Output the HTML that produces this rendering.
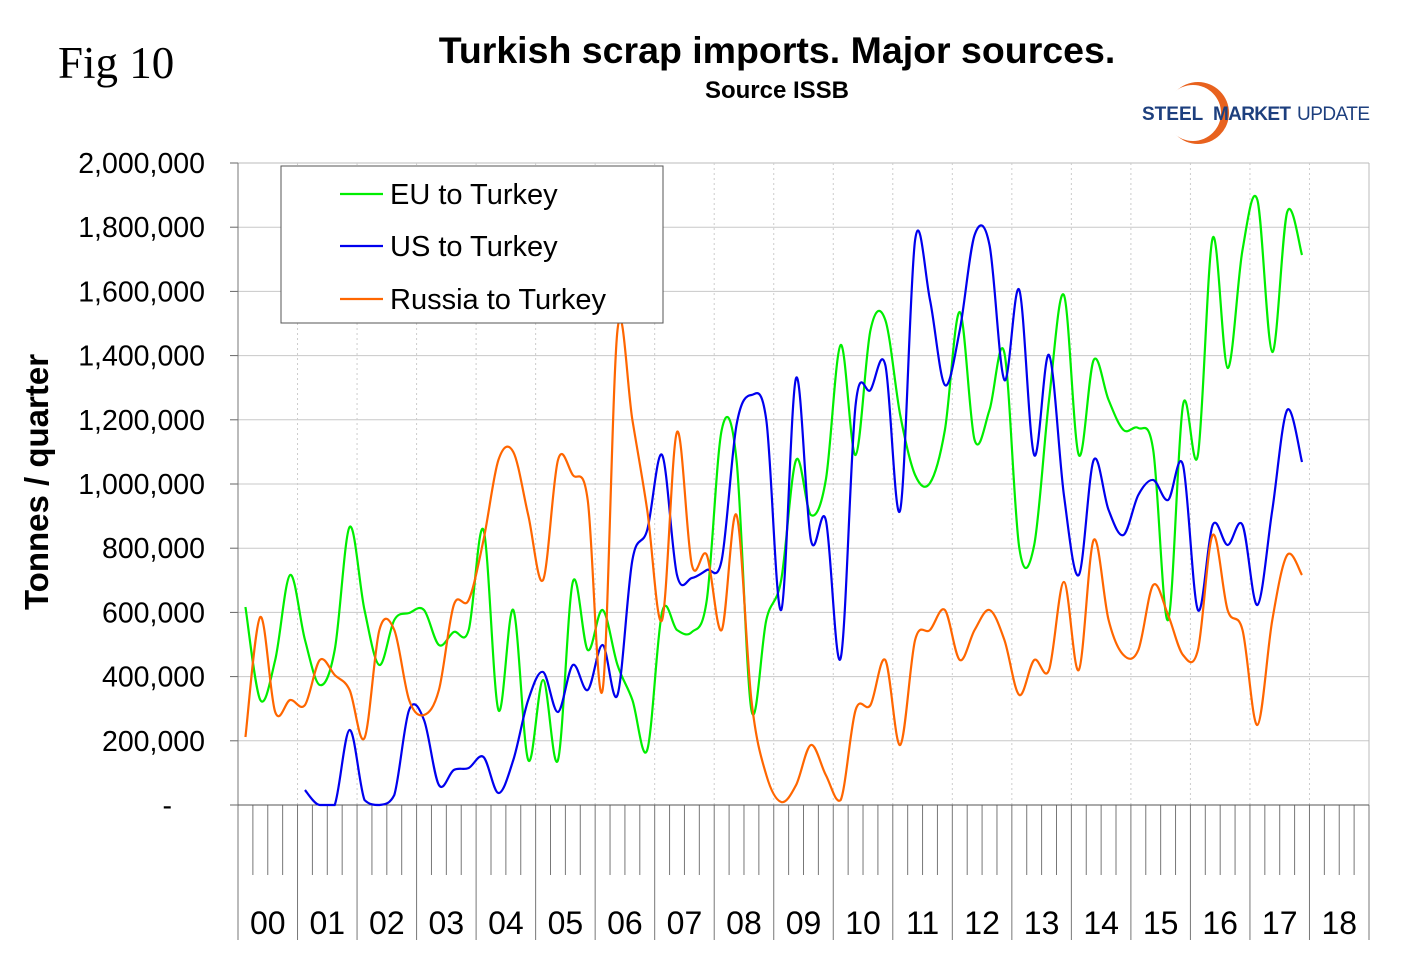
<!DOCTYPE html>
<html><head><meta charset="utf-8"><style>
html,body{margin:0;padding:0;background:#fff;}
svg{display:block;font-family:"Liberation Sans",Arial,sans-serif;}
</style></head><body>
<svg id="s" width="1420" height="973" viewBox="0 0 1420 973" xmlns="http://www.w3.org/2000/svg">
<defs><mask id="m"><rect x="1150" y="70" width="100" height="90" fill="#fff"/><circle cx="1193" cy="113" r="28" fill="#000"/></mask></defs>
<text x="58" y="78" font-family="Liberation Serif,serif" font-size="45">Fig 10</text>
<text x="777" y="63" font-size="37.5" font-weight="bold" text-anchor="middle">Turkish scrap imports. Major sources.</text>
<text x="777" y="98" font-size="24" font-weight="bold" text-anchor="middle">Source ISSB</text>
<circle cx="1198" cy="113" r="31" fill="#e8621e" mask="url(#m)"/>
<text x="1142" y="120" font-size="19" font-weight="bold" fill="#1d3f7e">STEEL</text>
<text x="1213" y="120" font-size="19" font-weight="bold" fill="#1d3f7e" textLength="78">MARKET</text>
<text x="1297" y="120" font-size="19" fill="#1d3f7e" textLength="73">UPDATE</text>
<g id="grid"></g>
<g id="series" fill="none" stroke-width="2.2"></g>
<rect x="281" y="166" width="382" height="157" fill="#fff" stroke="#555" stroke-width="1"/>
<line x1="340" y1="194" x2="383" y2="194" stroke="#00ee00" stroke-width="2.2"/>
<line x1="340" y1="246" x2="383" y2="246" stroke="#0000ee" stroke-width="2.2"/>
<line x1="340" y1="299" x2="383" y2="299" stroke="#ff6600" stroke-width="2.2"/>
<text x="390" y="204" font-size="29">EU to Turkey</text>
<text x="390" y="256" font-size="29">US to Turkey</text>
<text x="390" y="309" font-size="29">Russia to Turkey</text>
<text transform="translate(48,482) rotate(-90)" font-size="33" font-weight="bold" text-anchor="middle">Tonnes / quarter</text>
</svg>
<script>
var NS="http://www.w3.org/2000/svg",g=document.getElementById("grid"),S=document.getElementById("series");
function el(t,a,p,txt){var e=document.createElementNS(NS,t);for(var k in a)e.setAttribute(k,a[k]);if(txt)e.textContent=txt;(p||g).appendChild(e);return e;}
var L=238,R=1369,T=163,B=805,yw=(R-L)/19,q=yw/4;
var labs=["2,000,000","1,800,000","1,600,000","1,400,000","1,200,000","1,000,000","800,000","600,000","400,000","200,000","-"];
for(var i=0;i<=10;i++){var y=T+i*(B-T)/10;
 if(i<10)el("line",{x1:L,y1:y,x2:R,y2:y,stroke:"#c8c8c8","stroke-width":1});
 el("line",{x1:230,y1:y,x2:L,y2:y,stroke:"#666"});
 el("text",{x:i==10?172:205,y:y+10,"font-size":28.5,"text-anchor":"end"},g,labs[i]);}
el("line",{x1:L,y1:T,x2:R,y2:T,stroke:"#bbb"});
el("line",{x1:R,y1:T,x2:R,y2:B,stroke:"#bbb"});
for(var k=1;k<19;k++){var x=L+k*yw;el("line",{x1:x,y1:T,x2:x,y2:B,stroke:"#ccc","stroke-dasharray":"2,3"});}
for(var k=0;k<19*4+1;k++){var x=L+k*q;var big=k%4==0;el("line",{x1:x,y1:B,x2:x,y2:big?940:875,stroke:"#777","stroke-width":1});}
el("line",{x1:L,y1:T,x2:L,y2:B,stroke:"#777"});
el("line",{x1:L,y1:B,x2:R,y2:B,stroke:"#555"});
for(var k=0;k<19;k++){el("text",{x:L+(k+.5)*yw,y:934,"font-size":32,"text-anchor":"middle"},g,(k<10?"0":"")+k);}
var eu=[607,700,660,575,640,685,650,527,610,665,620,613,610,645,632,630,530,710,610,760,680,760,582,650,610,665,700,750,612,630,632,600,430,460,710,620,580,460,515,480,345,455,330,320,415,475,483,430,312,440,410,353,548,545,400,295,455,360,400,430,428,450,620,405,455,238,368,250,200,352,212,255];
var us=[null,null,null,null,790,808,805,730,800,805,795,710,720,785,770,768,757,793,760,700,672,712,665,690,645,695,560,530,455,575,578,570,560,425,395,420,610,378,540,520,658,405,390,365,510,240,300,385,330,235,245,380,290,455,355,495,575,460,510,535,495,480,500,465,610,525,545,525,605,510,410,462];
var ru=[737,617,712,700,705,660,675,690,738,630,630,700,715,690,605,600,540,460,452,515,580,460,475,500,690,330,420,510,620,432,565,555,630,515,700,775,802,785,745,775,800,710,705,660,745,640,630,610,660,630,610,640,695,660,670,582,670,540,620,655,650,585,615,655,650,535,610,630,725,620,555,575];
function path(a,c){var p=[];for(var i=0;i<a.length;i++)if(a[i]!=null)p.push([L+q*(i+.5),a[i]]);
 var d="M"+p[0][0]+","+p[0][1];
 for(var i=0;i<p.length-1;i++){var p0=p[i-1]||p[i],p1=p[i],p2=p[i+1],p3=p[i+2]||p2;
  var c1x=p1[0]+(p2[0]-p0[0])/6,c1y=p1[1]+(p2[1]-p0[1])/6,c2x=p2[0]-(p3[0]-p1[0])/6,c2y=p2[1]-(p3[1]-p1[1])/6;
  d+=" C"+c1x.toFixed(1)+","+Math.min(c1y,B).toFixed(1)+" "+c2x.toFixed(1)+","+Math.min(c2y,B).toFixed(1)+" "+p2[0].toFixed(1)+","+Math.min(p2[1],B);}
 el("path",{d:d,stroke:c},S);}
path(eu,"#00ee00");path(us,"#0000ee");path(ru,"#ff6600");
</script>
</body></html>
